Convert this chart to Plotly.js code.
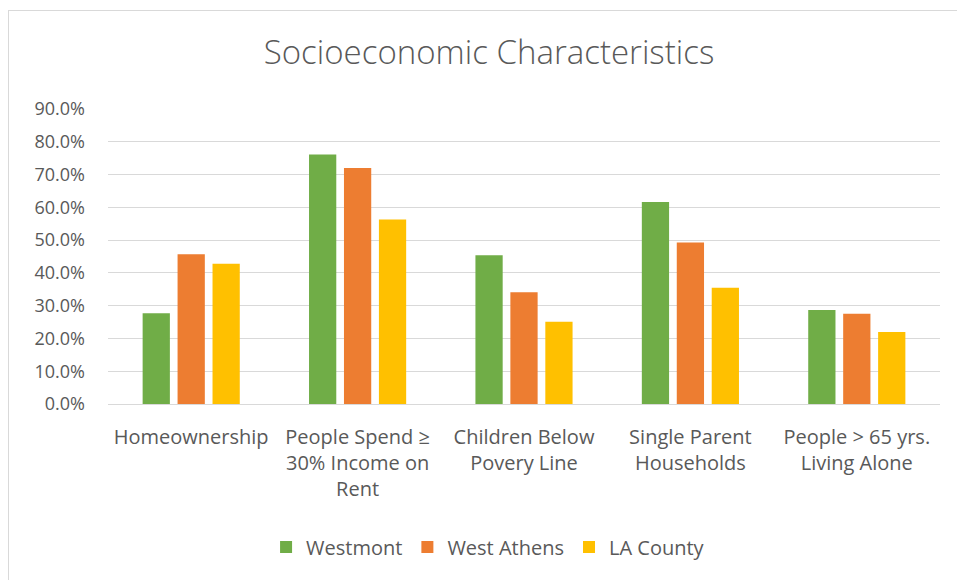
<!DOCTYPE html>
<html>
<head>
<meta charset="utf-8">
<script src="https://cdn.plot.ly/plotly-3.0.1.min.js"></script>
<style>
html,body{margin:0;padding:0;background:#fff;}
#wrap{position:relative;width:957px;height:580px;overflow:hidden;}
#chart{position:absolute;left:0;top:0;width:957px;height:580px;}
#frame{position:absolute;left:8px;top:10px;width:980px;height:600px;border:1px solid #d9d9d9;pointer-events:none;}
</style>
</head>
<body>
<div id="wrap"><div id="chart"></div><div id="frame"></div></div>
<script>
const categories = [
  "Homeownership",
  "People Spend ≥<br>30% Income on<br>Rent",
  "Children Below<br>Povery Line",
  "Single Parent<br>Households",
  "People > 65 yrs.<br>Living Alone"
];
const seriesNames = ["Westmont", "West Athens", "LA County"];
const westmont   = [0.277, 0.761, 0.454, 0.616, 0.287];
const westAthens = [0.457, 0.720, 0.341, 0.493, 0.275];
const laCounty   = [0.428, 0.563, 0.251, 0.355, 0.220];
const tickVals   = [0, 0.1, 0.2, 0.3, 0.4, 0.5, 0.6, 0.7, 0.8, 0.9];
const tickText   = ["0.0%","10.0%","20.0%","30.0%","40.0%","50.0%","60.0%","70.0%","80.0%","90.0%"];
const colors = ["#70ad47", "#ed7d31", "#ffc000"];

const font = "'Open Sans', Lato, sans-serif";
const allValues = [westmont, westAthens, laCounty];
const traces = allValues.map((v, i) => ({
  type: "bar",
  name: seriesNames[i],
  x: categories,
  y: v,
  marker: {color: colors[i]},
  hoverinfo: "y"
}));

const layout = {
  width: 957, height: 580,
  paper_bgcolor: "rgba(0,0,0,0)",
  plot_bgcolor: "#fff",
  margin: {l: 108, r: 17, t: 109, b: 176},
  barmode: "group",
  bargap: 0.37,
  bargroupgap: 0.22,
  title: {text: "Socioeconomic Characteristics", x: 0.511, xref: "container", xanchor: "center",
          y: 0.909, yref: "container", yanchor: "middle",
          font: {family: font, size: 33, weight: 300, color: "#595959"}},
  font: {family: font, size: 20, color: "#595959"},
  xaxis: {tickfont: {family: font, size: 20, color: "#595959"}, showline: true, linecolor: "#d9d9d9",
          linewidth: 1, ticks: "", showgrid: false, fixedrange: true, ticklabelstandoff: 15},
  yaxis: {range: [0, 0.9], tickvals: tickVals, ticktext: tickText, showgrid: true,
          gridcolor: "#d9d9d9", gridwidth: 1, zeroline: false, showline: false,
          tickfont: {family: font, size: 18, color: "#595959"}, ticks: "", ticklabelstandoff: 22, fixedrange: true},
  legend: {orientation: "h", x: 0.51, xanchor: "center", xref: "container", y: 0.057, yref: "container", yanchor: "middle",
           font: {family: font, size: 20, color: "#595959"}, traceorder: "normal"},
  showlegend: true
};
Plotly.newPlot("chart", traces, layout, {displayModeBar: false, staticPlot: true});
</script>
</body>
</html>
